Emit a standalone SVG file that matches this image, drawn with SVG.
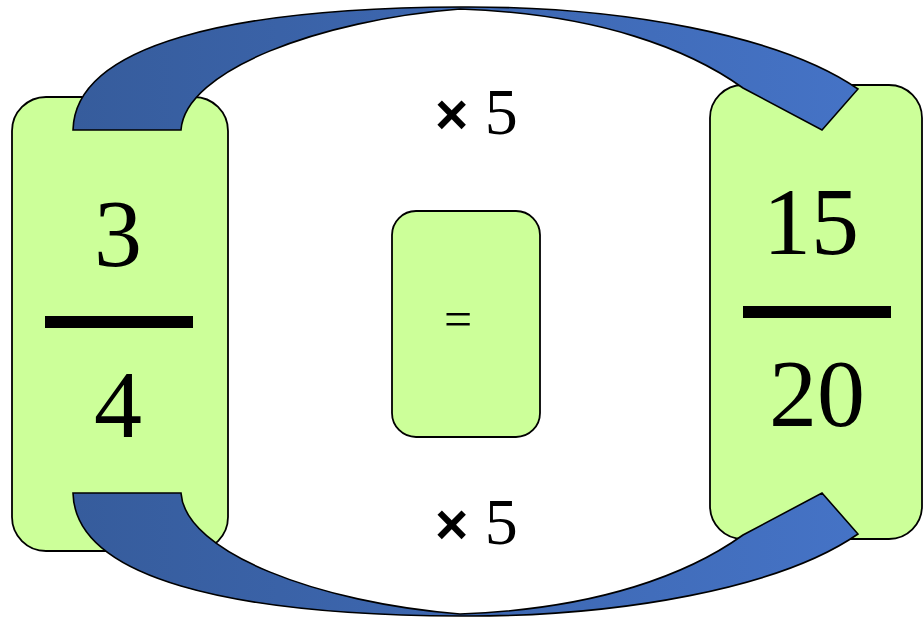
<svg xmlns="http://www.w3.org/2000/svg" width="923" height="622" viewBox="0 0 923 622">
<defs>
<style>
.box{fill:#CCFF99;stroke:#000;stroke-width:1.8}
.arrow{fill:url(#ag);stroke:#000;stroke-width:1.6;stroke-linejoin:miter}
.big{font-family:"Liberation Serif","Times New Roman",serif;font-size:96px;fill:#000;text-anchor:middle}
.bar{fill:#000}
.mul{font-family:"Liberation Serif","Times New Roman",serif;font-size:66px;fill:#000}
.x{font-family:"Liberation Sans",Arial,sans-serif;font-weight:bold;font-size:57px}
.eq{font-family:"Liberation Serif","Times New Roman",serif;font-size:50px;fill:#000;text-anchor:middle}
</style>
<linearGradient id="ag" gradientUnits="userSpaceOnUse" x1="73" y1="0" x2="858" y2="0">
<stop offset="0" stop-color="#365C9C"/>
<stop offset="1" stop-color="#4573C6"/>
</linearGradient>
</defs>
<rect width="923" height="622" fill="#fff"/>
<g id="left">
<rect class="box" x="12" y="97" width="216" height="454" rx="34" ry="34"/>
<text class="big" x="118" y="266">3</text>
<rect class="bar" x="45" y="316" width="148" height="12"/>
<text class="big" x="118" y="437">4</text>
</g>
<g id="right">
<rect class="box" x="710" y="85" width="212" height="454" rx="33" ry="33"/>
<text class="big" x="811" y="254">15</text>
<rect class="bar" x="743" y="306" width="148" height="12"/>
<text class="big" x="817" y="426">20</text>
</g>
<g id="middle">
<rect class="box" x="392" y="211" width="148" height="226" rx="24" ry="24"/>
<text class="eq" x="458" y="336">=</text>
</g>
<g id="connectors">
<path id="top-arrow" class="arrow" d="M73,130 C75,45 230,8 460,7 C620,6 780,35 858,89 L822,130 L743,88 C690,50 600,14 460,9 C320,20 185,70 181,130 Z"/>
<path id="bottom-arrow" class="arrow" transform="matrix(1,0,0,-1,0,623)" d="M73,130 C75,45 230,8 460,7 C620,6 780,35 858,89 L822,130 L743,88 C690,50 600,14 460,9 C320,20 185,70 181,130 Z"/>
</g>
<g id="labels">
<text class="mul" x="435" y="134"><tspan class="x">×</tspan> 5</text>
<text class="mul" x="435" y="544"><tspan class="x">×</tspan> 5</text>
</g>
</svg>
